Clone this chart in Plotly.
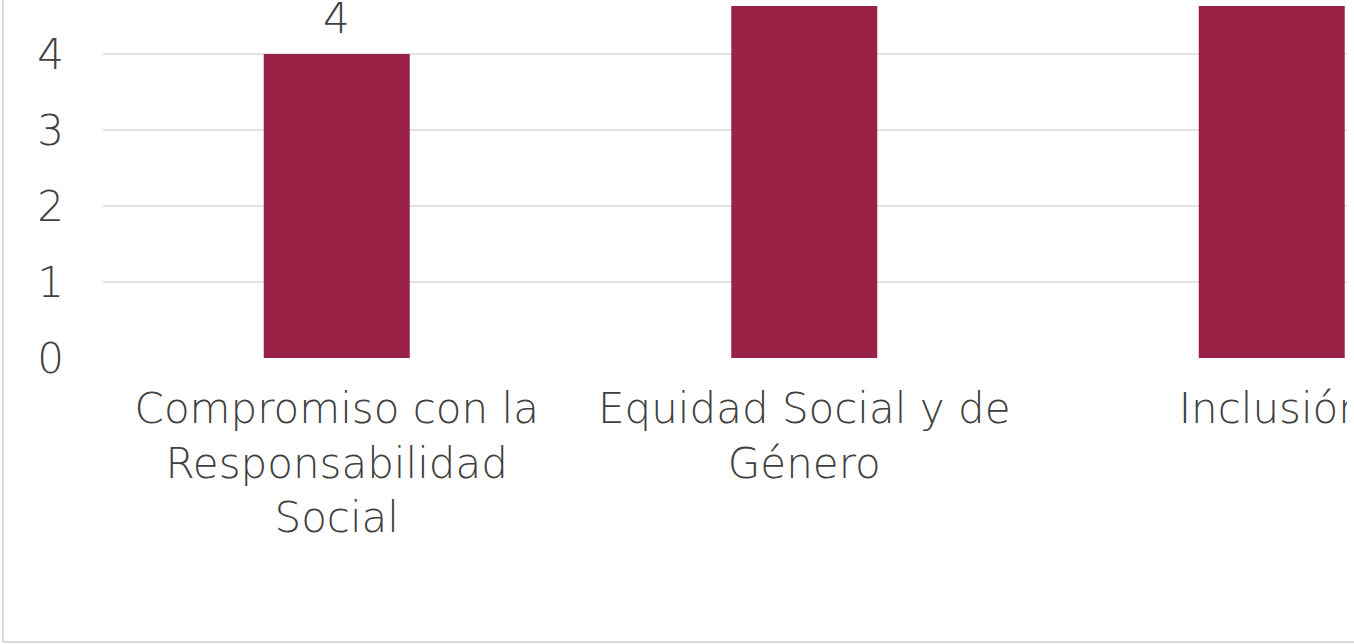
import plotly.graph_objects as go

categories = ["Compromiso con la<br>Responsabilidad<br>Social", "Equidad Social y de<br>Género", "Inclusión"]
values = [4, 6, 5]
y_ticks = [0, 1, 2, 3, 4]

W, H = 1354, 644
ML, MR, MT, MB = 103, 7, 6, 286
PW, PH = W - ML - MR, H - MT - MB
cat_px = 467.5
unit_px = 76.0

BAR = "#9B2247"
TXT = "#404040"
GRID = "#e3e3e3"
FONT = "DejaVu Sans"
FS = 42
FW = 200

fig = go.Figure()
fig.add_trace(go.Bar(x=list(range(len(categories))), y=values, marker_color=BAR,
                     marker_line_width=0, hoverinfo="skip"))

for i, v in enumerate(values):
    fig.add_annotation(x=i, y=v, text=str(v), showarrow=False, yanchor="bottom",
                       yshift=9, font=dict(family=FONT, size=FS, color=TXT, weight=FW))

def px_x(p):
    return (p - ML) / PW

def px_y(p):
    return (H - MB - p) / PH

fig.add_shape(type="line", xref="paper", yref="paper", x0=px_x(3), x1=px_x(3),
              y0=px_y(642), y1=px_y(-5), line=dict(color="#d9d9d9", width=2))
fig.add_shape(type="line", xref="paper", yref="paper", x0=px_x(3), x1=px_x(1400),
              y0=px_y(642), y1=px_y(642), line=dict(color="#d9d9d9", width=2))
fig.add_shape(type="rect", xref="paper", yref="paper", x0=1, x1=px_x(1400),
              y0=px_y(600), y1=1.05, fillcolor="white", line_width=0, layer="above")

fig.update_layout(
    width=W, height=H,
    margin=dict(l=ML, r=MR, t=MT, b=MB, autoexpand=False),
    plot_bgcolor="white", paper_bgcolor="white",
    showlegend=False, bargap=1 - 146 / cat_px,
    font=dict(family=FONT, size=FS, color=TXT, weight=FW),
)
fig.update_xaxes(range=[-0.5, -0.5 + PW / cat_px], tickvals=list(range(len(categories))),
                 ticktext=categories, showgrid=False, zeroline=False, showline=False,
                 ticks="", ticklabelstandoff=22, ticklabeloverflow="allow", automargin=False,
                 tickfont=dict(family=FONT, size=FS, color=TXT, weight=FW))
fig.update_yaxes(range=[0, PH / unit_px], tickvals=y_ticks, showgrid=True, gridcolor=GRID,
                 gridwidth=2, zeroline=False, showline=False, ticks="",
                 ticklabelstandoff=38, ticklabeloverflow="allow", automargin=False,
                 tickfont=dict(family=FONT, size=FS, color=TXT, weight=FW))

fig.write_html("out.html", config={"displayModeBar": False},
               post_script="document.body.style.margin='0';document.body.style.overflow='hidden';")
